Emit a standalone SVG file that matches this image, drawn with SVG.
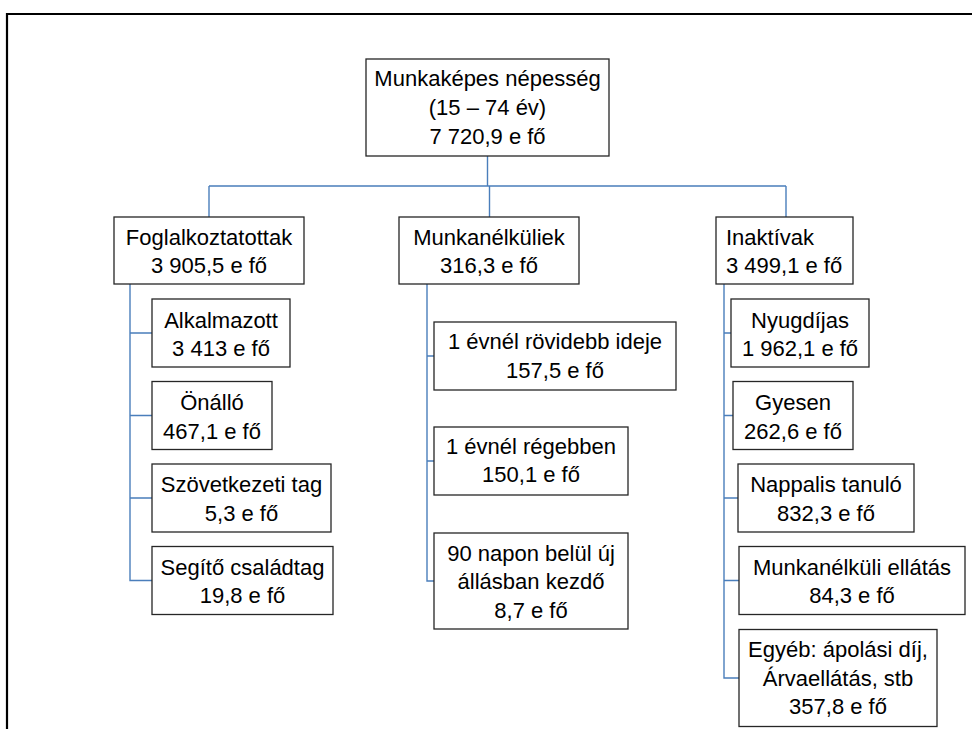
<svg xmlns="http://www.w3.org/2000/svg" width="972" height="729" viewBox="0 0 972 729">
<style>
.box{fill:#ffffff;stroke:#262626;stroke-width:1.3}
.t{font-family:"Liberation Sans",Arial,sans-serif;font-size:22px;fill:#000;text-anchor:middle}
.l{text-anchor:start}
.c{fill:none;stroke:#4A7EBB;stroke-width:1.4}
.frame{fill:none;stroke:#000;stroke-width:2.2}
</style>
<rect width="972" height="729" fill="#fff"/>
<path class="frame" d="M7,729 V14 H972"/>
<g id="connectors">
<path class="c" d="M487.5,156 V186 M209,186 H786 M209,186 V217 M489.5,186 V217 M786,186 V217"/>
<path class="c" d="M130,284 V333 H152 M130,284 V415.5 H152 M130,284 V498 H152 M130,284 V580.5 H152"/>
<path class="c" d="M427,284 V356 H434 M427,284 V461 H434 M427,284 V581 H434"/>
<path class="c" d="M724,284 V333 H731 M724,284 V415.5 H733 M724,284 V498 H738 M724,284 V580.5 H739 M724,284 V678 H739"/>
</g>
<g id="root">
<rect class="box" x="366" y="59" width="243" height="97"/>
<text class="t" x="487.5" y="86">Munkaképes népesség</text>
<text class="t" x="487.5" y="115">(15 – 74 év)</text>
<text class="t" x="487.5" y="144">7 720,9 e fő</text>
</g>
<g id="foglalkoztatottak">
<rect class="box" x="114" y="217" width="190" height="67"/>
<text class="t" x="209" y="244.5">Foglalkoztatottak</text>
<text class="t" x="209" y="273">3 905,5 e fő</text>
</g>
<g id="munkanelkuliek">
<rect class="box" x="399" y="217" width="180" height="67"/>
<text class="t" x="489" y="244.5">Munkanélküliek</text>
<text class="t" x="489" y="273">316,3 e fő</text>
</g>
<g id="inaktivak">
<rect class="box" x="716" y="217" width="137" height="67"/>
<text class="t l" x="726" y="244.5">Inaktívak</text>
<text class="t l" x="726" y="273">3 499,1 e fő</text>
</g>
<g id="alkalmazott">
<rect class="box" x="152" y="299" width="138" height="68"/>
<text class="t" x="221" y="327.5">Alkalmazott</text>
<text class="t" x="221" y="356">3 413 e fő</text>
</g>
<g id="onallo">
<rect class="box" x="152" y="381.5" width="120" height="68"/>
<text class="t" x="212" y="410">Önálló</text>
<text class="t" x="212" y="438.5">467,1 e fő</text>
</g>
<g id="szovetkezeti">
<rect class="box" x="152" y="464" width="179" height="68"/>
<text class="t" x="241.5" y="492">Szövetkezeti tag</text>
<text class="t" x="241.5" y="520.5">5,3 e fő</text>
</g>
<g id="segito">
<rect class="box" x="152" y="546.5" width="181" height="68"/>
<text class="t" x="242.5" y="574.5">Segítő családtag</text>
<text class="t" x="242.5" y="603">19,8 e fő</text>
</g>
<g id="rovidebb">
<rect class="box" x="434" y="322" width="242" height="68"/>
<text class="t" x="555" y="349">1 évnél rövidebb ideje</text>
<text class="t" x="555" y="377.5">157,5 e fő</text>
</g>
<g id="regebben">
<rect class="box" x="434" y="427" width="194" height="68"/>
<text class="t" x="531" y="454">1 évnél régebben</text>
<text class="t" x="531" y="482">150,1 e fő</text>
</g>
<g id="kezdo">
<rect class="box" x="434" y="533" width="194" height="96"/>
<text class="t" x="531" y="560.5">90 napon belül új</text>
<text class="t" x="531" y="589">állásban kezdő</text>
<text class="t" x="531" y="617.5">8,7 e fő</text>
</g>
<g id="nyugdijas">
<rect class="box" x="731" y="299" width="138" height="68"/>
<text class="t" x="800" y="327.5">Nyugdíjas</text>
<text class="t" x="800" y="356">1 962,1 e fő</text>
</g>
<g id="gyesen">
<rect class="box" x="733" y="381.5" width="120" height="68"/>
<text class="t" x="793" y="410">Gyesen</text>
<text class="t" x="793" y="438.5">262,6 e fő</text>
</g>
<g id="nappalis">
<rect class="box" x="738" y="464" width="176" height="68"/>
<text class="t" x="826" y="492">Nappalis tanuló</text>
<text class="t" x="826" y="520.5">832,3 e fő</text>
</g>
<g id="ellatas">
<rect class="box" x="739" y="546.5" width="226" height="68"/>
<text class="t" x="852" y="574.5">Munkanélküli ellátás</text>
<text class="t" x="852" y="603">84,3 e fő</text>
</g>
<g id="egyeb">
<rect class="box" x="739" y="629.5" width="198" height="97"/>
<text class="t" x="838" y="657">Egyéb: ápolási díj,</text>
<text class="t" x="838" y="685.5">Árvaellátás, stb</text>
<text class="t" x="838" y="714">357,8 e fő</text>
</g>
</svg>
